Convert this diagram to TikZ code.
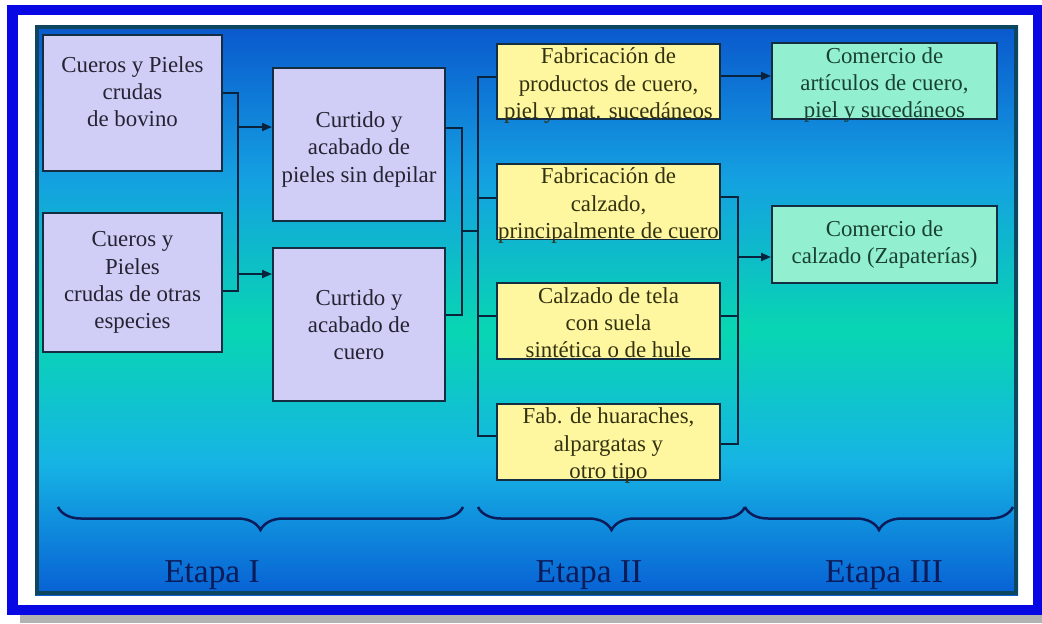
\documentclass[tikz,border=0pt]{standalone}
\usepackage{fontspec}
\setmainfont{Liberation Serif}
\usepackage{tikz}
\usetikzlibrary{arrows.meta, calc, decorations.pathreplacing}
\definecolor{framblue}{RGB}{8,8,228}
\definecolor{panelline}{RGB}{12,70,95}
\definecolor{shtop}{RGB}{10,88,205}
\definecolor{shmida}{RGB}{20,160,225}
\definecolor{shgreen}{RGB}{8,214,178}
\definecolor{shmidb}{RGB}{22,180,228}
\definecolor{shbot}{RGB}{8,96,212}
\definecolor{lavbox}{RGB}{208,206,246}
\definecolor{yelbox}{RGB}{255,246,160}
\definecolor{mintbox}{RGB}{146,240,208}
\definecolor{boxline}{RGB}{20,45,65}
\definecolor{conline}{RGB}{10,35,60}
\definecolor{etapatxt}{RGB}{12,28,90}
\definecolor{txtlav}{RGB}{35,35,50}
\definecolor{txtyel}{RGB}{50,50,15}
\definecolor{txtmint}{RGB}{25,65,50}
\newcommand{\boxfont}{\fontsize{13pt}{15.5pt}\selectfont}
\newcommand{\etapafont}{\fontsize{19pt}{22pt}\selectfont}
\newcommand{\padtop}[1]{\rule{0pt}{#1}}
\newcommand{\padbot}[1]{\rule[-#1]{0pt}{0pt}}
\tikzset{
  rawbox/.style={draw=boxline, line width=0.04cm, fill=lavbox, text=txtlav, font=\boxfont, align=center, inner sep=0pt},
  fabbox/.style={rawbox, fill=yelbox, text=txtyel, minimum width=4.46cm, minimum height=1.52cm},
  combox/.style={rawbox, fill=mintbox, text=txtmint, minimum width=4.5cm, minimum height=1.54cm},
  conn/.style={draw=conline, line width=0.04cm},
  arr/.style={conn, -{Triangle[length=0.2cm,width=0.16cm]}},
  etapa/.style={decorate, decoration={brace, mirror, amplitude=0.46cm}, draw=etapatxt, line width=0.05cm},
}

\begin{document}
\begin{tikzpicture}[x=0.02cm, y=-0.02cm]
                    \useasboundingbox (0,0) rectangle (1042,623);
                    % frame and background
                    \fill[gray!60] (20,615) rectangle (1042,623);
                    \fill[framblue] (7,5) rectangle (1042,615);
                    \fill[white] (18,15) rectangle (1033,605);
                    \shade[top color=shtop, bottom color=shgreen, middle color=shmida] (35,25) rectangle (1018,330);
                    \shade[top color=shgreen, bottom color=shbot, middle color=shmidb] (35,330) rectangle (1018,595);
                    \draw[panelline, line width=0.08cm] (37,27) rectangle (1016,593);
                    % Etapa I
                    \node[rawbox, minimum width=3.58cm, minimum height=2.72cm] (bovino) at (132.5,103) {Cueros y Pieles\\crudas\\de bovino\padbot{13pt}};
                    \node[rawbox, minimum width=3.58cm, minimum height=2.78cm] (otras) at (132.5,282.5) {Cueros y\\Pieles\\crudas de otras\\especies};
                    \node[rawbox, minimum width=3.44cm, minimum height=3.06cm] (pieles) at (359,144.5) {\padtop{14.5pt}Curtido y\\acabado de\\pieles sin depilar};
                    \node[rawbox, minimum width=3.44cm, minimum height=3.06cm] (cuero) at (359,324.5) {Curtido y\\acabado de\\cuero};
                    % Etapa II
                    \node[fabbox] (prodcuero) at (608.5,81.5) {\padtop{11pt}Fabricación de\\productos de cuero,\\\smash{piel y mat. sucedáneos}};
                    \node[fabbox] (calzcuero) at (608.5,201.5) {\padtop{11pt}Fabricación de\\calzado,\\\smash{principalmente de cuero}};
                    \node[fabbox] (calztela) at (608.5,321) {\padtop{11pt}Calzado de tela\\con suela\\\smash{sintética o de hule}};
                    \node[fabbox] (huaraches) at (608.5,441.5) {\padtop{11pt}Fab. de huaraches,\\alpargatas y\\\smash{otro tipo}};
                    % Etapa III
                    \node[combox] (comcuero) at (884.5,81) {\padtop{11pt}Comercio de\\artículos de cuero,\\\smash{piel y sucedáneos}};
                    \node[combox] (zapaterias) at (884.5,244.5) {Comercio de\\calzado (Zapaterías)};
                    % buses
                    \coordinate (busA) at (238,0);
                    \coordinate (busB) at (462,0);
                    \coordinate (busC) at (478,0);
                    \coordinate (busD) at (738,0);
                    \coordinate (outbovino) at ([yshift=0.2cm]bovino.east);
                    \coordinate (outotras) at ([yshift=-0.17cm]otras.east);
                    \coordinate (inpieles) at ([yshift=0.35cm]pieles.west);
                    \coordinate (incuero) at ([yshift=1.01cm]cuero.west);
                    \draw[conn] (outbovino) -| (outotras -| busA) -- (outotras);
                    \draw[arr] (inpieles -| busA) -- (inpieles);
                    \draw[arr] (incuero -| busA) -- (incuero);
                    \coordinate (outpieles) at ([yshift=0.33cm]pieles.east);
                    \coordinate (outcuero) at ([yshift=0.19cm]cuero.east);
                    \coordinate (jointB) at (462,231);
                    \draw[conn] (outpieles) -| (outcuero -| busB) -- (outcuero);
                    \draw[conn] (jointB) -- (jointB -| busC);
                    \coordinate (inprod) at ([yshift=0.1cm]prodcuero.west);
                    \coordinate (incalz) at ([yshift=0.07cm]calzcuero.west);
                    \coordinate (intela) at ([yshift=0.1cm]calztela.west);
                    \coordinate (inhuar) at ([yshift=0.11cm]huaraches.west);
                    \draw[conn] (inprod) -| (inhuar -| busC) -- (inhuar);
                    \draw[conn] (incalz -| busC) -- (incalz);
                    \draw[conn] (intela -| busC) -- (intela);
                    \coordinate (outprod) at ([yshift=0.11cm]prodcuero.east);
                    \coordinate (outcalz) at ([yshift=0.09cm]calzcuero.east);
                    \coordinate (outtela) at ([yshift=0.1cm]calztela.east);
                    \coordinate (outhuar) at ([yshift=-0.05cm]huaraches.east);
                    \coordinate (inzap) at ([yshift=-0.25cm]zapaterias.west);
                    \draw[arr] (outprod) -- (outprod -| comcuero.west);
                    \draw[conn] (outcalz) -| (outhuar -| busD) -- (outhuar);
                    \draw[conn] (outtela) -- (outtela -| busD);
                    \draw[arr] (inzap -| busD) -- (inzap);
                    % braces
                    \coordinate (braceIa) at (58,507);
                    \coordinate (braceIb) at (463,507);
                    \coordinate (braceIIa) at (478,507);
                    \coordinate (braceIIb) at (745,507);
                    \coordinate (braceIIIa) at (745,507);
                    \coordinate (braceIIIb) at (1013,507);
                    \draw[etapa] (braceIa) -- (braceIb);
                    \draw[etapa] (braceIIa) -- (braceIIb);
                    \draw[etapa] (braceIIIa) -- (braceIIIb);
                    \node[font=\etapafont, text=etapatxt] (etapaI) at (212,575) {Etapa I};
                    \node[font=\etapafont, text=etapatxt] (etapaII) at (589,575) {Etapa II};
                    \node[font=\etapafont, text=etapatxt] (etapaIII) at (884,575) {Etapa III};
                  \end{tikzpicture}
\end{document}
